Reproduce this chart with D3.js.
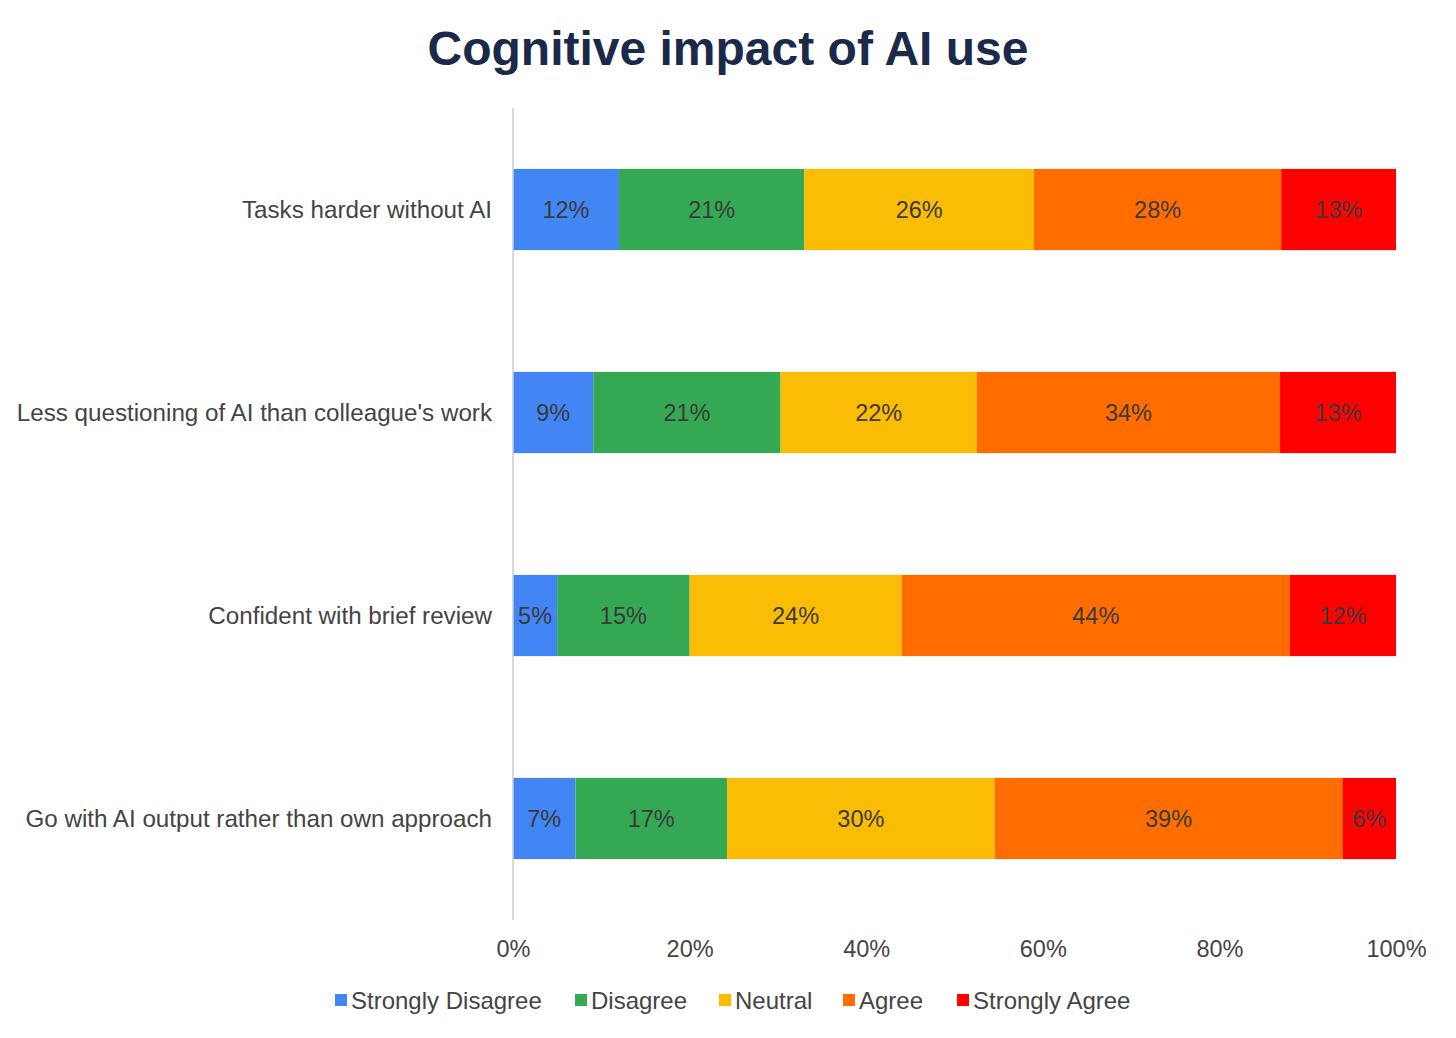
<!DOCTYPE html>
<html><head><meta charset="utf-8">
<script src="https://cdn.jsdelivr.net/npm/d3@7"></script>
<style>body{margin:0;background:#fff;font-family:"Liberation Sans",Arial,sans-serif;}</style>
</head><body>
<svg id="c" width="1456" height="1038"></svg>
<script>
const categories = ["Tasks harder without AI","Less questioning of AI than colleague's work","Confident with brief review","Go with AI output rather than own approach"];
const seriesNames = ["Strongly Disagree","Disagree","Neutral","Agree","Strongly Agree"];
const stronglyDisagree = [12, 9, 5, 7];
const disagree = [21, 21, 15, 17];
const neutral = [26, 22, 24, 30];
const agree = [28, 34, 44, 39];
const stronglyAgree = [13, 13, 12, 6];
const colors = ["#4285F4","#34A853","#FBBC04","#FF6D01","#FF0000"];
const tickValues = [0, 0.2, 0.4, 0.6, 0.8, 1.0];

(function(){
const seriesVals = [stronglyDisagree, disagree, neutral, agree, stronglyAgree];
const rows = categories.map((c,i)=>{
  const o={cat:c};
  let tot=0; seriesNames.forEach((s,j)=>{o[s]=seriesVals[j][i]; tot+=seriesVals[j][i];});
  seriesNames.forEach(s=>{o[s+"_n"]=o[s]/tot;});
  return o;
});
const stack = d3.stack().keys(seriesNames.map(s=>s+"_n"))(rows);

const svg = d3.select("#c");
const pL=513, pR=1396, pT=108, pB=920;
const x = d3.scaleLinear().domain([0,1]).range([pL,pR]);
const y = d3.scaleBand().domain(categories).range([pT,pB]).paddingInner(0.6).paddingOuter(0.3);

svg.append("text").attr("x",728).attr("y",65).attr("text-anchor","middle")
  .attr("font-size",48).attr("font-weight","bold").attr("fill","#1b2a4a").text("Cognitive impact of AI use");

stack.forEach((layer,j)=>{
  const g=svg.append("g");
  g.selectAll("rect").data(layer).enter().append("rect")
    .attr("x",d=>x(d[0])).attr("width",d=>x(d[1])-x(d[0]))
    .attr("y",d=>y(d.data.cat)).attr("height",y.bandwidth())
    .attr("fill",colors[j]);
  g.selectAll("text").data(layer).enter().append("text")
    .attr("x",d=>(x(d[0])+x(d[1]))/2).attr("y",d=>y(d.data.cat)+y.bandwidth()/2+8.5)
    .attr("text-anchor","middle").attr("font-size",23.5).attr("fill","#3a3a3a")
    .text(d=>d.data[seriesNames[j]]+"%");
});

svg.append("line").attr("x1",pL).attr("x2",pL).attr("y1",pT).attr("y2",pB)
  .attr("stroke","#cccccc").attr("stroke-width",1.5);

svg.selectAll(".cat").data(categories).enter().append("text").attr("class","cat")
  .attr("x",492).attr("y",d=>y(d)+y.bandwidth()/2+8.5).attr("text-anchor","end")
  .attr("font-size",24.2).attr("fill","#444").text(d=>d);

const xAxis = d3.axisBottom(x).tickValues(tickValues).tickFormat(d3.format(".0%")).tickSize(0).tickPadding(0);
const ax = svg.append("g").attr("transform",`translate(0,${pB})`).call(xAxis);
ax.select(".domain").remove();
ax.selectAll("text").attr("font-size",23.5).attr("fill","#444").attr("font-family","Liberation Sans, Arial, sans-serif").attr("dy",0).attr("y",37);

const legendX = [335,575,719,843,957];
const lg = svg.append("g");
seriesNames.forEach((s,j)=>{
  lg.append("rect").attr("x",legendX[j]).attr("y",994).attr("width",12).attr("height",12).attr("fill",colors[j]);
  lg.append("text").attr("x",legendX[j]+16).attr("y",1009).attr("font-size",24).attr("fill","#444").text(s);
});
})();
</script>
</body></html>
